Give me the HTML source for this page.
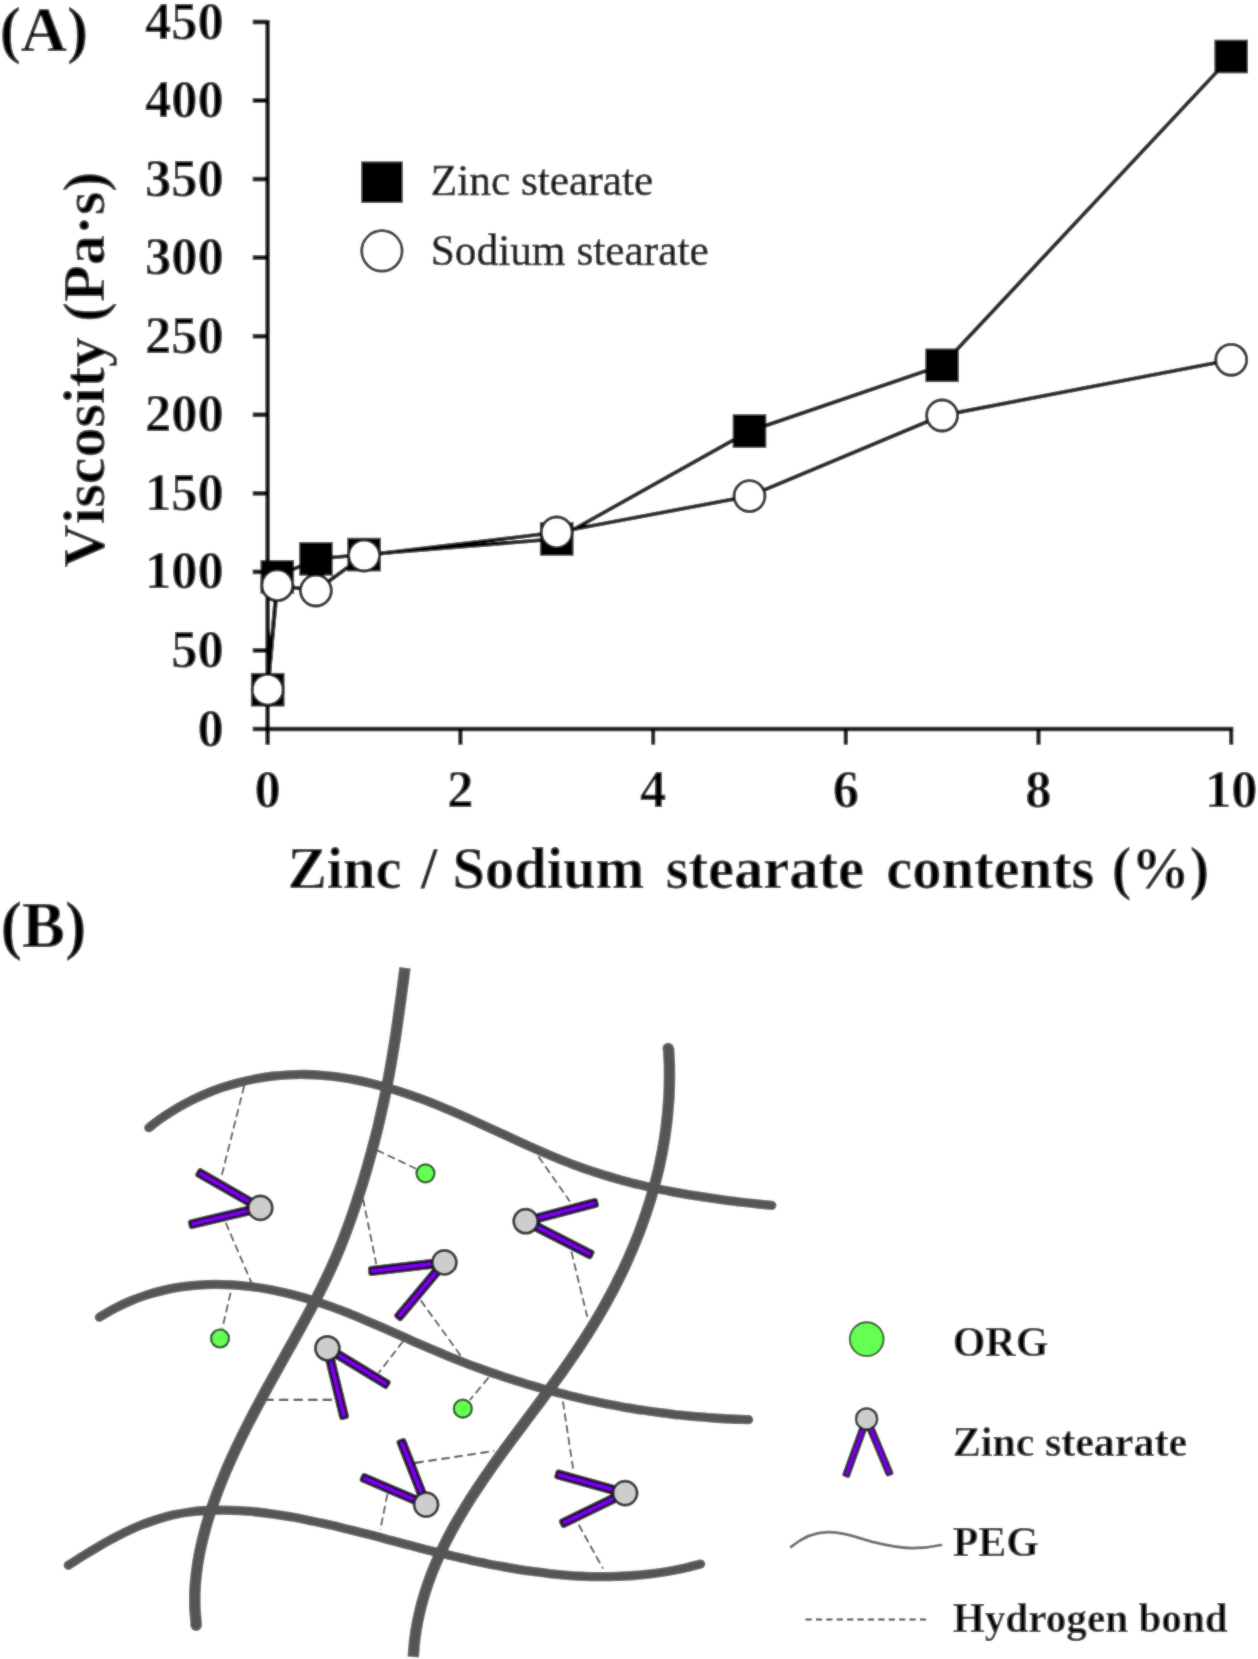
<!DOCTYPE html>
<html lang="en"><head><meta charset="utf-8"><title>Figure</title>
<style>html,body{margin:0;padding:0;background:#fff;}svg{display:block;}text{font-family:"Liberation Serif","Times New Roman",serif;fill:#000;}.b{font-weight:bold;}.t{font-kerning:none;word-spacing:4.3px;}</style></head><body>
<svg width="1258" height="1659" viewBox="0 0 1258 1659">
<defs><filter id="soft" x="0" y="0" width="1258" height="1659" filterUnits="userSpaceOnUse"><feGaussianBlur stdDeviation="0.8" result="b"/><feComposite in="SourceGraphic" in2="b" operator="arithmetic" k1="0" k2="0.5" k3="0.5" k4="0"/></filter></defs>
<rect width="1258" height="1659" fill="#fff"/>
<g filter="url(#soft)">
<rect x="-5" y="-5" width="1270" height="1670" fill="#fff"/>
<g transform="translate(-0.3 -0.3)">
<g id="panelA">
<text class="b" x="-0.3" y="51.3" font-size="64">(A)</text>
<g stroke="#000" stroke-width="4.6" fill="none" stroke-linecap="butt">
<path d="M268.0 20.2 V745"/>
<path d="M253 729.3 H1233.6"/>
<path d="M253 650.7 H268.0"/>
<path d="M253 572.2 H268.0"/>
<path d="M253 493.6 H268.0"/>
<path d="M253 415.1 H268.0"/>
<path d="M253 336.5 H268.0"/>
<path d="M253 257.9 H268.0"/>
<path d="M253 179.4 H268.0"/>
<path d="M253 100.8 H268.0"/>
<path d="M253 22.3 H268.0"/>
<path d="M460.7 729.3 V745" stroke-width="4.2"/>
<path d="M653.4 729.3 V745" stroke-width="4.2"/>
<path d="M846.1 729.3 V745" stroke-width="4.2"/>
<path d="M1038.8 729.3 V745" stroke-width="4.2"/>
<path d="M1231.5 729.3 V745" stroke-width="4.2"/>
</g>
<text class="b" x="224" y="745.9" font-size="52.5" text-anchor="end">0</text>
<text class="b" x="224" y="667.3" font-size="52.5" text-anchor="end">50</text>
<text class="b" x="224" y="588.8" font-size="52.5" text-anchor="end">100</text>
<text class="b" x="224" y="510.2" font-size="52.5" text-anchor="end">150</text>
<text class="b" x="224" y="431.7" font-size="52.5" text-anchor="end">200</text>
<text class="b" x="224" y="353.1" font-size="52.5" text-anchor="end">250</text>
<text class="b" x="224" y="274.5" font-size="52.5" text-anchor="end">300</text>
<text class="b" x="224" y="196.0" font-size="52.5" text-anchor="end">350</text>
<text class="b" x="224" y="117.4" font-size="52.5" text-anchor="end">400</text>
<text class="b" x="224" y="38.9" font-size="52.5" text-anchor="end">450</text>
<text class="b" x="268.0" y="807.3" font-size="52.5" text-anchor="middle">0</text>
<text class="b" x="460.7" y="807.3" font-size="52.5" text-anchor="middle">2</text>
<text class="b" x="653.4" y="807.3" font-size="52.5" text-anchor="middle">4</text>
<text class="b" x="846.1" y="807.3" font-size="52.5" text-anchor="middle">6</text>
<text class="b" x="1038.8" y="807.3" font-size="52.5" text-anchor="middle">8</text>
<text class="b" x="1231.5" y="807.3" font-size="52.5" text-anchor="middle">10</text>
<text class="b" y="888" font-size="58.5" style="font-kerning:none"><tspan x="288">Zinc </tspan><tspan x="421.2">/ </tspan><tspan x="452.8">Sodium </tspan><tspan x="666.1">stearate </tspan><tspan x="886.6">contents </tspan><tspan x="1112">(%)</tspan></text>
<text class="b" transform="translate(104.3 370) rotate(-90)" font-size="60.2" text-anchor="middle" style="font-kerning:none">Viscosity (Pa·s)</text>
<rect x="361.5" y="161.7" width="41.5" height="41.5" fill="#000"/>
<circle cx="382.2" cy="251.2" r="20.2" fill="#fff" stroke="#111" stroke-width="2.7"/>
<text x="431" y="195" font-size="43.35" stroke="#000" stroke-width="0.55">Zinc stearate</text>
<text x="431" y="265" font-size="43.35" stroke="#000" stroke-width="0.55">Sodium stearate</text>
<polyline points="268.0,690.0 277.6,577.1 316.2,559.1 364.4,554.9 557.0,539.2 749.8,431.4 942.4,365.6 1231.5,56.8" fill="none" stroke="#000" stroke-width="3.9"/>
<rect x="251.2" y="673.2" width="33.6" height="33.6" fill="#000"/>
<rect x="260.8" y="560.3" width="33.6" height="33.6" fill="#000"/>
<rect x="299.4" y="542.3" width="33.6" height="33.6" fill="#000"/>
<rect x="347.6" y="538.1" width="33.6" height="33.6" fill="#000"/>
<rect x="540.2" y="522.4" width="33.6" height="33.6" fill="#000"/>
<rect x="733.0" y="414.6" width="33.6" height="33.6" fill="#000"/>
<rect x="925.6" y="348.8" width="33.6" height="33.6" fill="#000"/>
<rect x="1214.7" y="40.0" width="33.6" height="33.6" fill="#000"/>
<polyline points="268.0,690.0 277.6,585.5 316.2,590.9 364.4,555.8 557.0,532.7 749.8,496.4 942.4,415.8 1231.5,360.1" fill="none" stroke="#000" stroke-width="3.9"/>
<circle cx="268.0" cy="690.0" r="15.45" fill="#fff" stroke="#000" stroke-width="2.9"/>
<circle cx="277.6" cy="585.5" r="15.45" fill="#fff" stroke="#000" stroke-width="2.9"/>
<circle cx="316.2" cy="590.9" r="15.45" fill="#fff" stroke="#000" stroke-width="2.9"/>
<circle cx="364.4" cy="555.8" r="15.45" fill="#fff" stroke="#000" stroke-width="2.9"/>
<circle cx="557.0" cy="532.7" r="15.45" fill="#fff" stroke="#000" stroke-width="2.9"/>
<circle cx="749.8" cy="496.4" r="15.45" fill="#fff" stroke="#000" stroke-width="2.9"/>
<circle cx="942.4" cy="415.8" r="15.45" fill="#fff" stroke="#000" stroke-width="2.9"/>
<circle cx="1231.5" cy="360.1" r="15.45" fill="#fff" stroke="#000" stroke-width="2.9"/>
</g>
<g id="panelB">
<text class="b" x="0.8" y="947.4" font-size="64.5">(B)</text>
<path d="M264.6 1400.2 H335.5" stroke="#303030" stroke-width="2.3" stroke-dasharray="9.4 5.2" fill="none"/>
<path d="M415.4 1463.2 L494.5 1451.3" stroke="#3c3c3c" stroke-width="2.1" stroke-dasharray="8.6 4.6" fill="none"/>
<g stroke="#3c3c3c" stroke-width="1.8" fill="none" stroke-dasharray="8 4">
<path d="M244.5 1086 L221.6 1177.5"/>
<path d="M226 1223 L251.8 1283"/>
<path d="M230.9 1293 L222.6 1328.8"/>
<path d="M377 1150.4 L416.3 1169"/>
<path d="M363.3 1199 L376.6 1264.4"/>
<path d="M538.7 1156.8 L570.2 1201.8"/>
<path d="M571.7 1251.9 L587.6 1317.3"/>
<path d="M421 1300.7 L461.6 1356.8"/>
<path d="M403.4 1341.6 L379.1 1373.1"/>
<path d="M488.8 1378 L470.2 1400.3"/>
<path d="M563.2 1401.8 L573.6 1470.3"/>
<path d="M387.7 1494.4 L380.6 1530.2"/>
<path d="M579 1525.1 L603.3 1568.9"/>
</g>
<g stroke="#555" fill="none" stroke-linejoin="round">
<path d="M149.1 1128.0 C151.4 1126.3 158.1 1120.9 162.9 1117.7 C167.6 1114.4 172.4 1111.4 177.3 1108.5 C182.2 1105.6 187.2 1102.9 192.2 1100.4 C197.3 1097.9 202.5 1095.5 207.7 1093.4 C212.9 1091.2 218.2 1089.3 223.5 1087.5 C228.9 1085.7 234.3 1084.1 239.7 1082.7 C245.1 1081.3 250.6 1080.1 256.1 1079.0 C261.6 1078.0 267.1 1077.2 272.7 1076.5 C278.2 1075.8 283.8 1075.4 289.3 1075.1 C294.9 1074.8 300.4 1074.7 306.0 1074.8 C311.5 1074.9 317.1 1075.2 322.6 1075.6 C328.1 1076.1 333.7 1076.7 339.2 1077.4 C344.7 1078.2 350.2 1079.1 355.6 1080.2 C361.1 1081.3 366.6 1082.5 372.0 1083.8 C377.4 1085.1 382.8 1086.6 388.2 1088.2 C393.6 1089.7 399.0 1091.4 404.4 1093.2 C409.7 1094.9 415.0 1096.8 420.3 1098.7 C425.6 1100.7 430.9 1102.7 436.2 1104.8 C441.4 1106.9 446.6 1109.1 451.8 1111.3 C457.0 1113.5 462.1 1115.7 467.3 1118.0 C472.4 1120.3 477.5 1122.6 482.7 1125.0 C487.8 1127.3 492.9 1129.7 498.0 1132.0 C503.1 1134.4 508.2 1136.7 513.2 1139.1 C518.3 1141.4 523.4 1143.7 528.5 1146.0 C533.6 1148.3 538.8 1150.6 543.9 1152.8 C549.0 1155.0 554.2 1157.2 559.3 1159.3 C564.5 1161.4 569.7 1163.4 574.9 1165.4 C580.1 1167.3 585.4 1169.2 590.6 1171.0 C595.9 1172.8 601.2 1174.4 606.6 1176.1 C611.9 1177.7 617.3 1179.2 622.7 1180.7 C628.1 1182.1 633.5 1183.5 639.0 1184.8 C644.4 1186.1 649.9 1187.4 655.3 1188.5 C660.8 1189.7 666.3 1190.8 671.8 1191.9 C677.4 1192.9 682.9 1193.9 688.4 1194.9 C694.0 1195.8 699.5 1196.7 705.1 1197.5 C710.7 1198.4 716.3 1199.2 721.8 1199.9 C727.4 1200.7 733.0 1201.4 738.6 1202.1 C744.2 1202.7 749.8 1203.4 755.4 1204.0 C761.0 1204.6 769.3 1205.4 772.1 1205.7" stroke-width="9.3" stroke-linecap="round"/>
<path d="M99.7 1317.5 C102.3 1316.0 110.1 1311.2 115.5 1308.4 C120.8 1305.6 126.2 1303.1 131.6 1300.9 C137.0 1298.6 142.5 1296.7 148.0 1294.9 C153.5 1293.2 159.1 1291.7 164.7 1290.4 C170.3 1289.1 175.9 1288.1 181.6 1287.2 C187.2 1286.4 192.9 1285.8 198.6 1285.4 C204.3 1285.0 210.0 1284.8 215.7 1284.7 C221.4 1284.7 227.1 1284.9 232.8 1285.2 C238.6 1285.6 244.3 1286.1 250.0 1286.8 C255.7 1287.5 261.4 1288.3 267.1 1289.3 C272.8 1290.3 278.4 1291.5 284.1 1292.8 C289.7 1294.1 295.3 1295.5 300.9 1297.1 C306.5 1298.6 312.0 1300.3 317.5 1302.1 C323.0 1303.9 328.4 1305.8 333.9 1307.8 C339.3 1309.8 344.7 1311.9 350.1 1314.0 C355.4 1316.2 360.8 1318.4 366.1 1320.7 C371.4 1322.9 376.7 1325.2 382.0 1327.6 C387.3 1329.9 392.6 1332.3 397.9 1334.6 C403.2 1337.0 408.5 1339.3 413.8 1341.7 C419.1 1344.0 424.4 1346.3 429.7 1348.6 C435.0 1350.9 440.3 1353.1 445.6 1355.3 C451.0 1357.6 456.3 1359.7 461.7 1361.8 C467.1 1363.9 472.5 1366.0 477.9 1368.0 C483.3 1370.0 488.7 1371.9 494.2 1373.8 C499.6 1375.6 505.1 1377.5 510.6 1379.2 C516.1 1381.0 521.6 1382.7 527.1 1384.4 C532.6 1386.0 538.2 1387.6 543.7 1389.2 C549.3 1390.7 554.9 1392.2 560.5 1393.6 C566.0 1395.1 571.6 1396.4 577.3 1397.8 C582.9 1399.1 588.5 1400.3 594.2 1401.5 C599.8 1402.7 605.5 1403.9 611.1 1405.0 C616.8 1406.1 622.5 1407.1 628.2 1408.1 C633.8 1409.0 639.5 1410.0 645.3 1410.8 C651.0 1411.7 656.7 1412.5 662.4 1413.2 C668.1 1414.0 673.9 1414.6 679.6 1415.3 C685.4 1415.9 691.1 1416.5 696.9 1417.0 C702.6 1417.5 708.4 1417.9 714.2 1418.3 C720.0 1418.7 725.7 1419.0 731.5 1419.3 C737.3 1419.6 746.0 1419.8 748.9 1420.0" stroke-width="9.3" stroke-linecap="round"/>
<path d="M68.6 1565.6 C71.0 1564.1 77.9 1559.6 82.6 1556.7 C87.3 1553.7 92.1 1550.8 96.9 1548.0 C101.8 1545.1 106.7 1542.3 111.6 1539.6 C116.6 1537.0 121.6 1534.3 126.7 1531.9 C131.8 1529.5 136.9 1527.2 142.1 1525.1 C147.3 1523.1 152.5 1521.1 157.9 1519.5 C163.2 1517.8 168.5 1516.3 173.9 1515.1 C179.3 1514.0 184.8 1513.0 190.3 1512.3 C195.8 1511.6 201.4 1511.1 206.9 1510.8 C212.5 1510.5 218.0 1510.4 223.6 1510.4 C229.2 1510.4 234.8 1510.6 240.4 1511.0 C245.9 1511.3 251.5 1511.8 257.0 1512.3 C262.6 1512.9 268.1 1513.6 273.6 1514.4 C279.1 1515.1 284.6 1516.0 290.1 1516.9 C295.5 1517.9 301.0 1518.9 306.4 1520.0 C311.9 1521.1 317.3 1522.3 322.7 1523.5 C328.1 1524.7 333.6 1525.9 339.0 1527.2 C344.4 1528.5 349.8 1529.9 355.2 1531.3 C360.6 1532.6 366.0 1534.0 371.4 1535.4 C376.8 1536.9 382.2 1538.3 387.6 1539.7 C393.0 1541.1 398.4 1542.6 403.8 1544.0 C409.2 1545.4 414.7 1546.8 420.1 1548.2 C425.5 1549.6 431.0 1551.0 436.4 1552.3 C441.8 1553.7 447.3 1555.0 452.7 1556.3 C458.2 1557.6 463.7 1558.8 469.1 1560.0 C474.6 1561.3 480.1 1562.4 485.5 1563.5 C491.0 1564.7 496.5 1565.7 502.0 1566.7 C507.5 1567.8 513.0 1568.7 518.4 1569.6 C523.9 1570.5 529.4 1571.3 534.9 1572.0 C540.4 1572.8 546.0 1573.5 551.5 1574.1 C557.0 1574.7 562.5 1575.2 568.0 1575.6 C573.5 1576.0 579.1 1576.3 584.6 1576.6 C590.1 1576.8 595.6 1576.9 601.2 1577.0 C606.7 1577.0 612.2 1576.9 617.8 1576.7 C623.3 1576.5 628.8 1576.2 634.4 1575.8 C639.9 1575.4 645.5 1574.8 651.0 1574.2 C656.5 1573.5 662.1 1572.7 667.6 1571.8 C673.2 1570.8 678.7 1569.7 684.3 1568.5 C689.8 1567.3 698.2 1565.1 700.9 1564.4" stroke-width="9.3" stroke-linecap="round"/>
<path d="M405.3 968.1 C404.9 971.1 403.8 979.9 403.0 985.8 C402.2 991.7 401.4 997.6 400.6 1003.5 C399.8 1009.4 399.0 1015.4 398.1 1021.3 C397.3 1027.2 396.4 1033.1 395.5 1039.0 C394.5 1044.9 393.6 1050.8 392.6 1056.7 C391.6 1062.6 390.6 1068.5 389.5 1074.4 C388.4 1080.2 387.3 1086.1 386.1 1091.9 C384.9 1097.8 383.7 1103.6 382.4 1109.4 C381.1 1115.2 379.8 1121.0 378.4 1126.8 C377.0 1132.6 375.5 1138.4 374.0 1144.1 C372.5 1149.9 371.0 1155.6 369.3 1161.4 C367.7 1167.1 366.1 1172.8 364.4 1178.5 C362.6 1184.3 360.9 1190.0 359.0 1195.6 C357.2 1201.3 355.4 1207.0 353.4 1212.7 C351.5 1218.3 349.5 1224.0 347.4 1229.6 C345.3 1235.2 343.2 1240.7 341.0 1246.3 C338.7 1251.8 336.4 1257.3 334.0 1262.7 C331.6 1268.2 329.1 1273.6 326.5 1278.9 C323.9 1284.3 321.3 1289.6 318.6 1294.9 C315.9 1300.2 313.1 1305.5 310.3 1310.7 C307.5 1316.0 304.7 1321.2 301.8 1326.5 C298.9 1331.7 296.0 1336.9 293.2 1342.2 C290.3 1347.4 287.3 1352.6 284.4 1357.8 C281.5 1363.1 278.6 1368.3 275.7 1373.5 C272.8 1378.7 269.9 1384.0 267.0 1389.2 C264.2 1394.5 261.3 1399.7 258.5 1405.0 C255.7 1410.3 252.9 1415.5 250.2 1420.8 C247.4 1426.1 244.7 1431.5 242.1 1436.8 C239.5 1442.2 236.9 1447.5 234.4 1452.9 C231.9 1458.3 229.5 1463.8 227.1 1469.2 C224.8 1474.7 222.5 1480.2 220.3 1485.8 C218.1 1491.3 216.1 1496.9 214.1 1502.5 C212.1 1508.1 210.2 1513.8 208.5 1519.5 C206.7 1525.2 205.1 1531.0 203.6 1536.8 C202.2 1542.6 200.9 1548.4 199.7 1554.3 C198.6 1560.1 197.6 1566.0 196.9 1571.9 C196.2 1577.8 195.6 1583.8 195.3 1589.7 C195.0 1595.7 195.0 1601.7 195.2 1607.6 C195.4 1613.6 196.4 1622.6 196.6 1625.6" stroke-width="11.5" stroke-linecap="butt"/>
<path d="M668.9 1048.4 C669.0 1051.3 669.5 1060.1 669.7 1066.0 C669.8 1071.8 669.8 1077.7 669.7 1083.5 C669.6 1089.3 669.4 1095.1 669.0 1100.9 C668.6 1106.7 668.1 1112.4 667.5 1118.1 C666.9 1123.9 666.2 1129.6 665.4 1135.3 C664.5 1141.0 663.6 1146.6 662.5 1152.3 C661.4 1157.9 660.3 1163.5 659.0 1169.1 C657.7 1174.7 656.3 1180.2 654.8 1185.8 C653.3 1191.3 651.7 1196.8 650.0 1202.3 C648.3 1207.7 646.5 1213.2 644.6 1218.6 C642.7 1224.0 640.8 1229.4 638.7 1234.8 C636.6 1240.1 634.4 1245.4 632.2 1250.7 C629.9 1256.0 627.6 1261.3 625.2 1266.5 C622.7 1271.7 620.2 1276.9 617.6 1282.0 C615.1 1287.2 612.4 1292.3 609.6 1297.3 C606.9 1302.4 604.1 1307.5 601.2 1312.4 C598.3 1317.4 595.3 1322.4 592.3 1327.3 C589.3 1332.2 586.2 1337.1 583.0 1341.9 C579.9 1346.8 576.7 1351.6 573.4 1356.3 C570.1 1361.1 566.8 1365.8 563.5 1370.6 C560.1 1375.3 556.7 1380.0 553.3 1384.6 C549.9 1389.3 546.5 1394.0 543.0 1398.6 C539.6 1403.2 536.1 1407.9 532.7 1412.5 C529.2 1417.1 525.7 1421.8 522.3 1426.4 C518.8 1431.0 515.3 1435.6 511.9 1440.3 C508.5 1444.9 505.1 1449.6 501.7 1454.2 C498.3 1458.9 494.9 1463.6 491.6 1468.3 C488.3 1473.0 485.0 1477.7 481.8 1482.5 C478.6 1487.2 475.4 1492.0 472.3 1496.8 C469.3 1501.6 466.2 1506.5 463.3 1511.4 C460.3 1516.3 457.4 1521.2 454.6 1526.2 C451.9 1531.2 449.2 1536.2 446.6 1541.3 C444.0 1546.4 441.5 1551.5 439.2 1556.7 C436.8 1561.9 434.6 1567.2 432.5 1572.5 C430.5 1577.8 428.5 1583.2 426.7 1588.6 C424.9 1594.0 423.3 1599.5 421.8 1605.1 C420.3 1610.7 419.0 1616.3 417.9 1622.0 C416.8 1627.7 415.9 1633.5 415.1 1639.4 C414.4 1645.3 413.8 1654.3 413.5 1657.3" stroke-width="11.5" stroke-linecap="butt"/>
</g>
<circle cx="196.5" cy="1625.6" r="5.75" fill="#555"/>
<circle cx="668.5" cy="1048.8" r="5.75" fill="#555"/>
<path d="M261.6 1206.4 L200.5 1171.4 L198.5 1175.0 L259.6 1210.0Z" fill="#7a00e6" stroke="#000" stroke-width="5.8" stroke-linejoin="round" paint-order="stroke"/><path d="M260.1 1206.2 L191.1 1222.6 L192.1 1226.6 L261.1 1210.2Z" fill="#7a00e6" stroke="#000" stroke-width="5.8" stroke-linejoin="round" paint-order="stroke"/><circle cx="260.6" cy="1208.2" r="12.0" fill="#cdcdcd" stroke="#151515" stroke-width="2.7"/>
<path d="M526.5 1223.5 L596.3 1205.2 L595.3 1201.2 L525.5 1219.5Z" fill="#7a00e6" stroke="#000" stroke-width="5.8" stroke-linejoin="round" paint-order="stroke"/><path d="M525.0 1223.4 L589.9 1256.6 L591.9 1252.8 L527.0 1219.6Z" fill="#7a00e6" stroke="#000" stroke-width="5.8" stroke-linejoin="round" paint-order="stroke"/><circle cx="526.0" cy="1221.5" r="12.0" fill="#cdcdcd" stroke="#151515" stroke-width="2.7"/>
<path d="M444.5 1260.6 L371.1 1269.3 L371.5 1273.5 L444.9 1264.8Z" fill="#7a00e6" stroke="#000" stroke-width="5.8" stroke-linejoin="round" paint-order="stroke"/><path d="M443.1 1261.3 L397.3 1315.8 L400.5 1318.6 L446.3 1264.1Z" fill="#7a00e6" stroke="#000" stroke-width="5.8" stroke-linejoin="round" paint-order="stroke"/><circle cx="444.7" cy="1262.7" r="12.0" fill="#cdcdcd" stroke="#151515" stroke-width="2.7"/>
<path d="M326.6 1350.4 L385.9 1386.4 L388.1 1382.8 L328.8 1346.8Z" fill="#7a00e6" stroke="#000" stroke-width="5.8" stroke-linejoin="round" paint-order="stroke"/><path d="M325.7 1349.1 L342.4 1417.6 L346.4 1416.6 L329.7 1348.1Z" fill="#7a00e6" stroke="#000" stroke-width="5.8" stroke-linejoin="round" paint-order="stroke"/><circle cx="327.7" cy="1348.6" r="12.0" fill="#cdcdcd" stroke="#151515" stroke-width="2.7"/>
<path d="M428.4 1504.1 L403.7 1441.2 L399.7 1442.8 L424.4 1505.7Z" fill="#7a00e6" stroke="#000" stroke-width="5.8" stroke-linejoin="round" paint-order="stroke"/><path d="M427.2 1503.0 L364.5 1476.2 L362.9 1480.0 L425.6 1506.8Z" fill="#7a00e6" stroke="#000" stroke-width="5.8" stroke-linejoin="round" paint-order="stroke"/><circle cx="426.4" cy="1504.9" r="12.0" fill="#cdcdcd" stroke="#151515" stroke-width="2.7"/>
<path d="M626.0 1491.4 L558.7 1472.7 L557.5 1476.7 L624.8 1495.4Z" fill="#7a00e6" stroke="#000" stroke-width="5.8" stroke-linejoin="round" paint-order="stroke"/><path d="M624.5 1491.5 L562.2 1521.7 L564.0 1525.5 L626.3 1495.3Z" fill="#7a00e6" stroke="#000" stroke-width="5.8" stroke-linejoin="round" paint-order="stroke"/><circle cx="625.4" cy="1493.4" r="12.0" fill="#cdcdcd" stroke="#151515" stroke-width="2.7"/>
<circle cx="425.8" cy="1173.6" r="9" fill="#63ff52" stroke="#0f3f0f" stroke-width="2.2"/>
<circle cx="220.3" cy="1338.8" r="9" fill="#63ff52" stroke="#0f3f0f" stroke-width="2.2"/>
<circle cx="463.1" cy="1409" r="9" fill="#63ff52" stroke="#0f3f0f" stroke-width="2.2"/>
<circle cx="867" cy="1339.4" r="16.9" fill="#63ff52" stroke="#1f4f1f" stroke-width="1.9"/>
<text class="b" x="953" y="1356.5" font-size="42">ORG</text>
<path d="M865.2 1418.6 L844.9 1474.7 L848.3 1475.9 L868.6 1419.8Z" fill="#7a00e6" stroke="#000" stroke-width="4.5" stroke-linejoin="round" paint-order="stroke"/><path d="M865.2 1419.9 L888.1 1474.5 L891.5 1473.1 L868.6 1418.5Z" fill="#7a00e6" stroke="#000" stroke-width="4.5" stroke-linejoin="round" paint-order="stroke"/><circle cx="866.9" cy="1419.2" r="10.6" fill="#cdcdcd" stroke="#151515" stroke-width="2.3"/>
<text class="b" x="953" y="1456.4" font-size="42">Zinc stearate</text>
<path d="M791.4 1547.2 C805 1536 818 1532 830 1532.5 C848 1533 860 1539 875 1542.7 C890 1546.5 900 1548.4 913 1548.4 C925 1548.4 934 1547 941.5 1545.3" fill="none" stroke="#606060" stroke-width="2.7" stroke-linecap="round"/>
<text class="b" x="953" y="1556.7" font-size="42">PEG</text>
<path d="M805.8 1619.8 H928.2" stroke="#333" stroke-width="1.9" stroke-dasharray="6.2 4.2" fill="none"/>
<text class="b" x="953" y="1632.6" font-size="41.2">Hydrogen bond</text>
</g>
</g>
</g>
</svg></body></html>
